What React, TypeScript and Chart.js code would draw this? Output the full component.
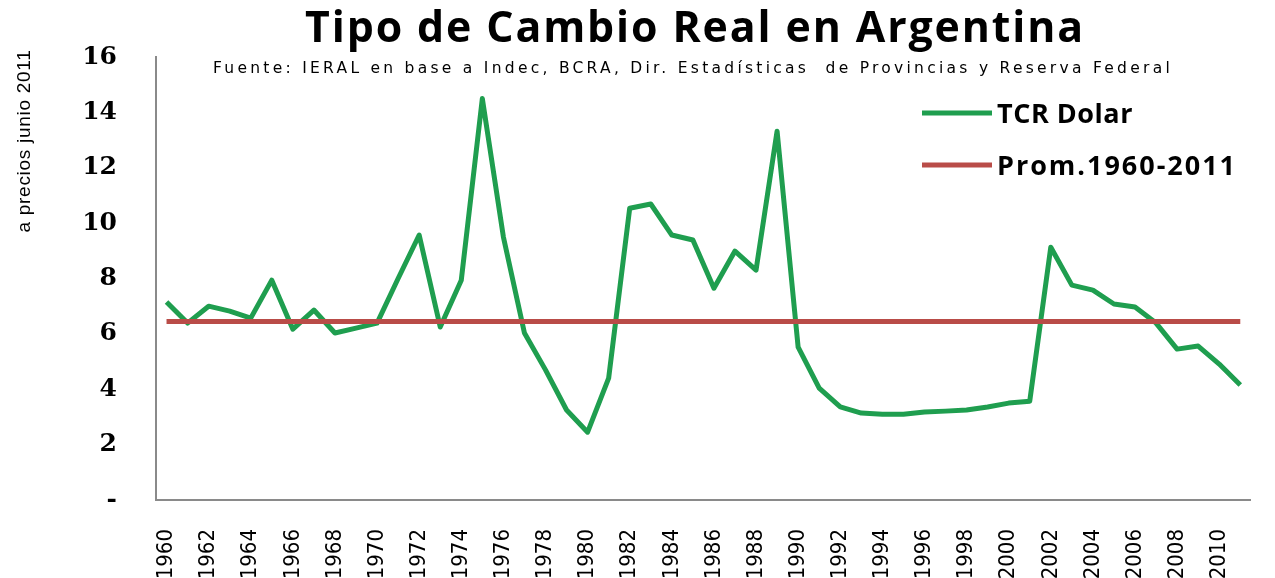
import React, { useEffect, useRef } from 'react';
import { Chart, registerables } from 'chart.js';

Chart.register(...registerables);

const TITLE = 'Tipo de Cambio Real en Argentina';
const SUBTITLE = 'Fuente: IERAL en base a Indec, BCRA, Dir. Estadísticas  de Provincias y Reserva Federal';
const Y_TITLE = 'a precios junio 2011';

const years = [
  '1960', '1961', '1962', '1963', '1964', '1965', '1966', '1967', '1968', '1969',
  '1970', '1971', '1972', '1973', '1974', '1975', '1976', '1977', '1978', '1979',
  '1980', '1981', '1982', '1983', '1984', '1985', '1986', '1987', '1988', '1989',
  '1990', '1991', '1992', '1993', '1994', '1995', '1996', '1997', '1998', '1999',
  '2000', '2001', '2002', '2003', '2004', '2005', '2006', '2007', '2008', '2009',
  '2010', '2011',
];

const tcrDolar = [
  7.15, 6.39, 7.0, 6.82, 6.57, 7.94, 6.17, 6.86, 6.03, 6.21,
  6.39, 8.0, 9.57, 6.25, 7.94, 14.5, 9.5, 6.03, 4.7, 3.25,
  2.45, 4.4, 10.54, 10.69, 9.57, 9.39, 7.65, 8.99, 8.3, 13.32,
  5.52, 4.04, 3.36, 3.14, 3.1, 3.1, 3.18, 3.21, 3.25, 3.36,
  3.5, 3.57, 9.13, 7.76, 7.58, 7.08, 6.97, 6.39, 5.45, 5.56,
  4.91, 4.15,
];

const promedio = 6.45;

const seriesNames = ['TCR Dolar', 'Prom.1960-2011'];
const seriesColors = ['#1f9e4f', '#b94c48'];

const yTicks = [0, 2, 4, 6, 8, 10, 12, 14, 16];

function fitText(
  ctx: CanvasRenderingContext2D,
  text: string,
  fontFn: (size: number) => string,
  baseSize: number,
  maxScale: number,
  x: number,
  y: number,
  width: number,
  align: 'center' | 'left'
) {
  ctx.save();
  (ctx as any).letterSpacing = '0px';
  ctx.font = fontFn(baseSize);
  const w0 = ctx.measureText(text).width;
  const size = baseSize * Math.min(width / w0, maxScale);
  ctx.font = fontFn(size);
  const w = ctx.measureText(text).width;
  ctx.textAlign = 'left';
  ctx.textBaseline = 'alphabetic';
  ctx.fillStyle = '#000';
  let sx = 1;
  if (w > width) {
    sx = width / w;
  } else if (text.length > 1 && width - w > 0.5) {
    (ctx as any).letterSpacing = (width - w) / text.length + 'px';
  }
  const startX = align === 'center' ? x - width / 2 : x;
  ctx.translate(startX, y);
  ctx.scale(sx, 1);
  ctx.fillText(text, 0, 0);
  ctx.restore();
}

const textPlugin = {
  id: 'textPlugin',
  afterDraw(chart: any) {
    const ctx: CanvasRenderingContext2D = chart.ctx;
    fitText(ctx, TITLE, (s) => `bold ${s}px "Open Sans"`, 36, 1.19, 695, 42, 780, 'center');
    fitText(ctx, SUBTITLE, (s) => `${s}px "DejaVu Sans"`, 15.5, 1.0, 693, 73, 960, 'center');
    ctx.save();
    ctx.translate(30, 141);
    ctx.rotate(-Math.PI / 2);
    fitText(ctx, Y_TITLE, (s) => `${s}px "Liberation Sans Narrow", "Liberation Sans"`, 19, 1.0, 0, 0, 183, 'center');
    ctx.restore();
    const legendY = [113, 165];
    const baseY = [123, 175];
    const widths = [136, 240];
    seriesNames.forEach((name, i) => {
      ctx.save();
      ctx.strokeStyle = seriesColors[i];
      ctx.lineWidth = 5;
      ctx.beginPath();
      ctx.moveTo(922, legendY[i]);
      ctx.lineTo(992, legendY[i]);
      ctx.stroke();
      ctx.restore();
      fitText(ctx, name, (s) => `bold ${s}px "Open Sans"`, 25, 1.08, 997, baseY[i], widths[i], 'left');
    });
  },
};

export default function App() {
  const canvasRef = useRef<HTMLCanvasElement | null>(null);

  useEffect(() => {
    document.body.style.margin = '0';
    const canvas = canvasRef.current;
    if (!canvas) return;
    const chart = new Chart(canvas, {
      type: 'line',
      data: {
        labels: years,
        datasets: [
          {
            label: seriesNames[0],
            data: tcrDolar,
            borderColor: seriesColors[0],
            backgroundColor: seriesColors[0],
            borderWidth: 5,
            pointRadius: 0,
            tension: 0,
            order: 2,
            borderJoinStyle: 'round',
          },
          {
            label: seriesNames[1],
            data: years.map(() => promedio),
            borderColor: seriesColors[1],
            backgroundColor: seriesColors[1],
            borderWidth: 5,
            pointRadius: 0,
            tension: 0,
            order: 1,
          },
        ],
      },
      options: {
        animation: false,
        responsive: false,
        devicePixelRatio: 1,
        layout: { padding: { top: 57, right: 13, bottom: 0, left: 0 } },
        plugins: {
          legend: { display: false },
          tooltip: { enabled: false },
          title: { display: false },
        },
        scales: {
          x: {
            type: 'category',
            offset: true,
            grid: { display: false, drawTicks: false },
            border: { display: true, color: '#8a8a8a', width: 2 },
            ticks: {
              autoSkip: false,
              minRotation: 90,
              maxRotation: 90,
              padding: 29,
              color: '#000',
              font: { family: '"Liberation Sans Narrow", "DejaVu Sans Condensed", "Liberation Sans"', size: 22 },
              callback: (_v: any, i: number) => (i % 2 === 0 ? years[i] : null),
            },
            afterFit: (s: any) => {
              s.height = 78;
            },
          },
          y: {
            min: 0,
            max: 16,
            grid: { display: false, drawTicks: false },
            border: { display: true, color: '#8a8a8a', width: 2 },
            afterBuildTicks: (s: any) => {
              s.ticks = yTicks.map((v) => ({ value: v }));
            },
            ticks: {
              padding: 39,
              color: '#000',
              font: { family: '"DejaVu Serif"', size: 25, weight: 'bold' },
              callback: (v: any) => (Number(v) === 0 ? '-' : String(v)),
            },
            afterFit: (s: any) => {
              s.width = 156;
            },
          },
        },
      },
      plugins: [textPlugin],
    });
    return () => chart.destroy();
  }, []);

  return (
    <div style={{ position: 'absolute', left: 0, top: 0, width: 1275, height: 578, background: '#fff' }}>
      <canvas ref={canvasRef} width={1275} height={578} style={{ width: 1275, height: 578 }} />
    </div>
  );
}
